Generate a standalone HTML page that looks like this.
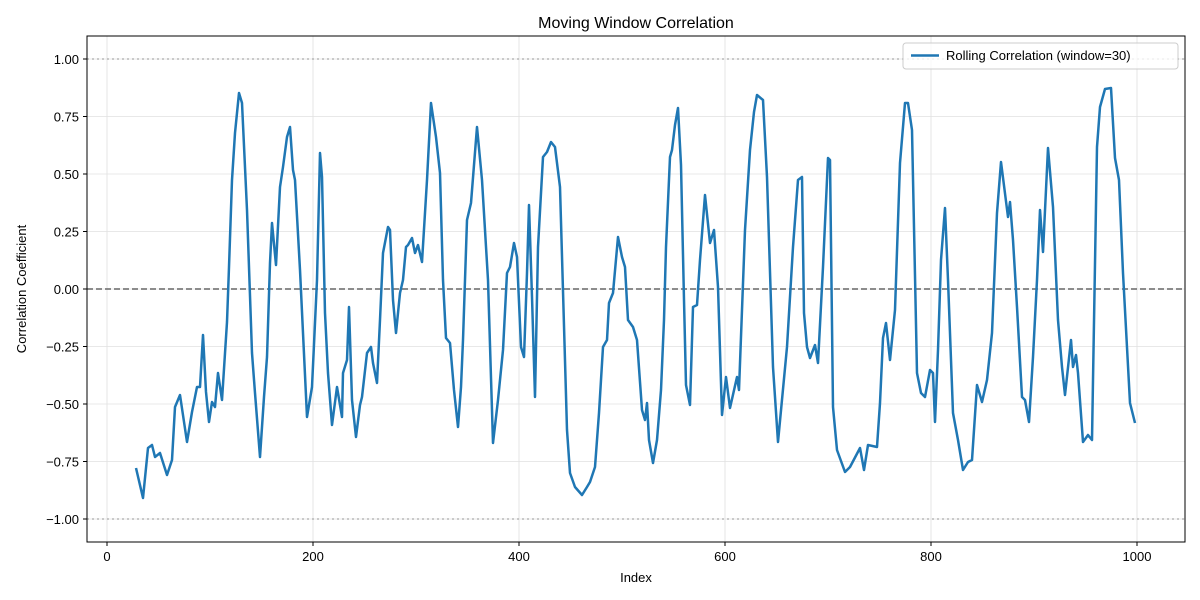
<!DOCTYPE html>
<html><head><meta charset="utf-8"><style>
body{margin:0;background:#fff}
svg{display:block;font-family:"Liberation Sans","DejaVu Sans",sans-serif}
</style></head><body>
<svg width="1200" height="600" viewBox="0 0 1200 600" xmlns="http://www.w3.org/2000/svg">
<rect width="1200" height="600" fill="#fff"/>
<g stroke="#e0e0e0" stroke-width="0.8">
<line x1="107" y1="36" x2="107" y2="542"/><line x1="313" y1="36" x2="313" y2="542"/><line x1="519" y1="36" x2="519" y2="542"/><line x1="725" y1="36" x2="725" y2="542"/><line x1="931" y1="36" x2="931" y2="542"/><line x1="1137" y1="36" x2="1137" y2="542"/>
<line x1="87" y1="59" x2="1185" y2="59"/><line x1="87" y1="116.5" x2="1185" y2="116.5"/><line x1="87" y1="174" x2="1185" y2="174"/><line x1="87" y1="231.5" x2="1185" y2="231.5"/><line x1="87" y1="289" x2="1185" y2="289"/><line x1="87" y1="346.5" x2="1185" y2="346.5"/><line x1="87" y1="404" x2="1185" y2="404"/><line x1="87" y1="461.5" x2="1185" y2="461.5"/><line x1="87" y1="519" x2="1185" y2="519"/>
</g>
<line x1="87" y1="59" x2="1185" y2="59" stroke="#aaa" stroke-width="1.3" stroke-dasharray="2,3"/>
<line x1="87" y1="519" x2="1185" y2="519" stroke="#aaa" stroke-width="1.3" stroke-dasharray="2,3"/>
<line x1="87" y1="289" x2="1185" y2="289" stroke="#666" stroke-width="1.5" stroke-dasharray="6,3"/>
<polyline fill="none" stroke="#1f77b4" stroke-width="2.5" stroke-linejoin="round" points="136,468 143,498 148,448 152,445 155,457 160,453 167,475 172,460 175,407 180,395 187,442 192,412 197,387 200,387 203,335 206,392 209,422 212,402 215,407 218,373 222,400 227,322 229,267 232,180 235,133 239,93 242,103 247,210 252,353 255,393 260,457 264,397 267,357 270,263 272,223 276,265 280,187 283,167 287,137 290,127 293,170 295,180 300,270 307,417 312,387 317,280 320,153 322,177 325,313 328,373 332,425 337,387 342,417 343,373 347,360 349,307 352,400 356,437 360,405 362,397 367,353 371,347 373,363 377,383 380,320 383,253 388,227 390,230 393,300 396,333 400,293 403,280 406,247 408,245 412,238 415,253 418,245 422,262 427,180 431,103 436,137 440,173 443,280 446,338 450,343 454,390 458,427 461,387 463,340 467,220 471,203 477,127 482,180 488,280 493,443 498,400 503,350 507,273 510,267 514,243 517,257 521,347 524,357 527,273 529,205 532,297 535,397 538,247 543,157 547,152 551,142 555,147 560,187 567,430 570,473 575,487 582,495 587,487 590,482 595,467 599,413 603,347 607,340 609,303 613,293 618,237 622,257 625,267 628,320 633,327 637,340 642,410 645,420 647,403 649,440 653,463 657,440 661,390 664,320 666,247 670,157 672,150 675,125 678,108 681,165 684,300 686,385 690,405 693,307 697,305 700,260 705,195 710,243 714,230 718,287 722,415 726,377 730,408 737,377 739,390 745,230 750,150 754,112 757,95 763,100 767,177 773,367 778,442 787,347 793,247 798,180 802,177 804,313 807,347 810,358 815,345 818,363 823,267 828,158 830,160 833,407 837,450 845,472 850,467 860,448 864,470 868,445 877,447 880,403 883,338 886,323 890,360 895,310 900,163 905,103 908,103 912,130 917,373 921,393 925,397 930,370 933,373 935,422 938,350 941,260 945,208 948,280 953,413 958,440 963,470 968,462 972,460 977,385 982,402 987,380 992,333 997,213 1001,162 1008,217 1010,202 1013,240 1017,307 1022,397 1025,400 1029,422 1033,357 1037,280 1040,210 1043,252 1048,148 1053,207 1058,320 1062,367 1065,395 1071,340 1073,367 1076,355 1078,373 1083,442 1088,435 1092,440 1093,380 1097,147 1100,107 1105,89 1111,88 1115,158 1119,180 1123,273 1130,403 1135,423"/>
<rect x="87" y="36" width="1098" height="506" fill="none" stroke="#000" stroke-width="1"/>
<g stroke="#000" stroke-width="1">
<line x1="107" y1="542" x2="107" y2="546"/><line x1="313" y1="542" x2="313" y2="546"/><line x1="519" y1="542" x2="519" y2="546"/><line x1="725" y1="542" x2="725" y2="546"/><line x1="931" y1="542" x2="931" y2="546"/><line x1="1137" y1="542" x2="1137" y2="546"/>
<line x1="83" y1="59" x2="87" y2="59"/><line x1="83" y1="116.5" x2="87" y2="116.5"/><line x1="83" y1="174" x2="87" y2="174"/><line x1="83" y1="231.5" x2="87" y2="231.5"/><line x1="83" y1="289" x2="87" y2="289"/><line x1="83" y1="346.5" x2="87" y2="346.5"/><line x1="83" y1="404" x2="87" y2="404"/><line x1="83" y1="461.5" x2="87" y2="461.5"/><line x1="83" y1="519" x2="87" y2="519"/>
</g>
<g font-size="13" fill="#000" text-anchor="middle">
<text x="107" y="561">0</text><text x="313" y="561">200</text><text x="519" y="561">400</text><text x="725" y="561">600</text><text x="931" y="561">800</text><text x="1137" y="561">1000</text>
</g>
<g font-size="13" fill="#000" text-anchor="end">
<text x="79" y="64">1.00</text><text x="79" y="121.5">0.75</text><text x="79" y="179">0.50</text><text x="79" y="236.5">0.25</text><text x="79" y="294">0.00</text><text x="79" y="351.5">−0.25</text><text x="79" y="409">−0.50</text><text x="79" y="466.5">−0.75</text><text x="79" y="524">−1.00</text>
</g>
<text x="636" y="28" font-size="16" text-anchor="middle">Moving Window Correlation</text>
<text x="636" y="582" font-size="13" text-anchor="middle">Index</text>
<text x="26" y="289" font-size="13" text-anchor="middle" transform="rotate(-90 26 289)">Correlation Coefficient</text>
<rect x="903" y="43" width="275" height="26" rx="3" fill="#fff" fill-opacity="0.8" stroke="#ccc"/>
<line x1="911" y1="55.5" x2="939" y2="55.5" stroke="#1f77b4" stroke-width="2.5"/>
<text x="946" y="60" font-size="13">Rolling Correlation (window=30)</text>
</svg>
</body></html>
